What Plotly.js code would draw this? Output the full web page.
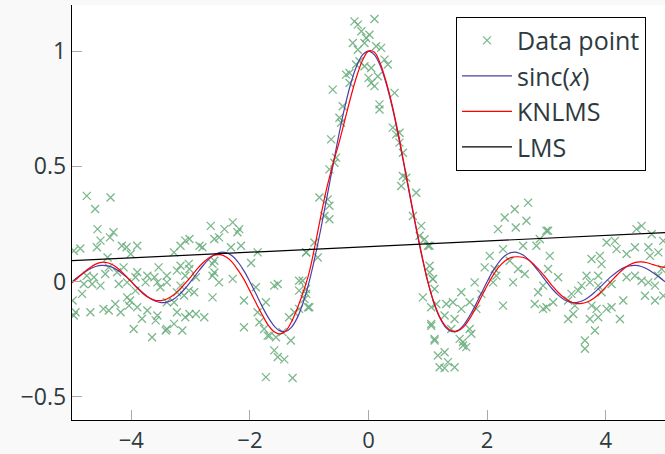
<!DOCTYPE html>
<html>
<head>
<meta charset="utf-8">
<script src="https://cdn.plot.ly/plotly-3.0.1.min.js"></script>
<style>
html,body{margin:0;padding:0;background:#f9f9f9;}
#chart{width:665px;height:454px;}
</style>
</head>
<body>
<div id="chart"></div>
<script>
// Noisy samples
const dataX = [
-4.75,-4.35,-4.61,-4.57,-4.30,-4.36,-4.52,-4.58,-4.97,-4.86,-4.16,-4.08,-3.90,-4.01,-4.40,-3.28,-3.09,-3.17,-3.54,-3.61,
-3.40,-3.51,-3.90,-3.93,-4.07,-4.21,-4.24,-4.75,-4.66,-4.52,-4.63,-4.80,-4.83,-4.99,-4.94,-4.97,-4.69,-4.47,-4.38,-4.27,
-4.18,-4.04,-4.02,-3.90,-4.07,-3.93,-3.73,-3.82,-3.96,-3.65,-3.56,-3.59,-3.40,-3.42,-3.28,-3.14,-3.09,-3.23,-3.40,-3.28,
-3.03,-3.11,-3.23,-3.17,-3.09,-3.23,-3.03,-3.17,-3.56,-3.73,-3.76,-3.40,-4.38,-4.44,-4.13,
-2.66,-2.43,-2.29,-2.18,-2.21,-2.52,-2.60,-3.02,-2.85,-2.80,-2.32,-2.15,-1.87,-1.98,-2.60,-2.63,-2.60,-2.63,-2.52,-2.29,
-3.02,-2.91,-2.94,-2.63,-3.02,-2.91,-2.77,-2.10,-1.90,-1.59,-1.53,-1.73,-1.87,-1.84,-1.76,-1.67,-1.56,-2.10,-1.31,-1.34,
-1.25,-1.17,-1.02,-1.05,-1.17,-1.17,-1.05,-1.59,-1.53,-1.42,-1.73,-1.28,-1.70,-1.45,
-0.237,-0.18,0.101,-0.12,0.016,-0.265,-0.068,0.129,-0.21,-0.068,0.045,-0.378,-0.32,0.045,0.157,0.27,0.326,-0.603,0.439,0.185,
0.185,-0.434,-0.49,-0.462,0.41,0.467,0.523,0.523,0.58,-0.63,-0.547,-0.575,-0.659,0.58,0.636,0.552,0.805,-0.828,-0.687,-0.659,
-0.743,-0.659,0.749,0.889,0.861,0.945,-0.913,-0.856,-1.053,1.002,-1.11,-1.053,-0.997,-1.08,1.03,1.086,0.917,1.058,1.058,1.114,
1.17,-0.04,-0.18,0.213,0.0,0.101,-0.32,-0.152,
2.466,2.691,2.297,2.663,2.184,2.483,3.029,2.888,2.832,2.607,2.269,2.044,1.959,2.128,2.156,2.100,2.381,2.522,2.635,2.438,
1.790,1.903,1.565,2.269,2.944,2.860,2.804,2.944,1.03,1.03,1.086,1.114,1.143,1.311,1.424,1.565,1.706,1.818,1.283,1.452,
1.396,1.706,1.734,1.593,1.593,1.649,1.114,1.283,1.340,1.199,1.283,1.452,1.058,1.537,
3.00,4.52,4.606,4.775,4.015,4.155,4.183,4.493,4.72,4.887,4.97,4.352,4.747,3.057,3.761,3.902,3.93,3.029,3.198,3.677,
3.874,3.733,3.874,3.592,4.099,4.352,4.493,4.606,4.719,4.831,4.944,4.887,4.662,4.831,4.972,3.423,3.367,3.114,3.001,3.48,
3.761,3.846,4.015,4.099,4.296,3.452,3.367,3.733,3.874,4.24,3.818,3.649,3.649,3.536,3.93
];
const dataY = [
0.372,0.365,0.315,0.228,0.214,0.192,0.178,0.149,0.134,0.144,0.156,0.149,0.156,0.120,0.105,0.127,0.178,0.156,0.062,0.019,
-0.003,-0.024,0.041,0.019,-0.003,-0.010,0.041,0.026,-0.010,-0.017,0.019,-0.010,-0.053,-0.082,-0.133,-0.147,-0.133,-0.118,-0.125,-0.097,
-0.133,-0.104,-0.082,-0.111,-0.068,-0.039,-0.125,-0.161,-0.205,-0.241,-0.147,-0.168,-0.205,-0.212,-0.183,-0.212,-0.154,-0.133,-0.089,-0.089,
-0.039,-0.060,-0.046,-0.017,0.026,0.048,0.077,0.069,-0.003,0.026,-0.003,0.026,0.062,0.033,0.062,
0.242,0.228,0.257,0.228,0.214,0.192,0.185,0.185,0.156,0.149,0.149,0.156,0.127,0.081,0.091,0.077,0.040,0.026,-0.003,0.012,
0.055,0.019,-0.046,-0.068,-0.140,-0.140,-0.154,-0.082,-0.024,-0.017,-0.010,-0.089,-0.133,-0.176,-0.205,-0.234,-0.241,-0.198,-0.255,-0.154,
-0.133,-0.118,-0.111,-0.053,-0.039,0.004,0.127,-0.298,-0.327,-0.337,-0.414,-0.418,-0.234,-0.219,
1.129,1.115,1.139,1.086,1.071,1.035,1.035,1.021,0.942,0.934,0.927,0.898,0.862,0.862,0.891,0.963,0.942,0.833,0.819,0.769,
0.747,0.761,0.711,0.689,0.668,0.639,0.646,0.603,0.559,0.617,0.538,0.516,0.487,0.458,0.451,0.415,0.386,0.365,0.357,0.329,
0.285,0.271,0.285,0.242,0.199,0.184,0.170,0.105,0.127,0.156,0.004,-0.032,-0.111,-0.075,0.069,0.011,-0.068,-0.111,-0.191,-0.248,
-0.320,1.057,1.006,1.014,0.884,0.848,0.905,0.956,
0.314,0.343,0.278,0.264,0.228,0.235,0.221,0.185,0.156,0.156,0.141,0.112,0.062,0.055,0.026,-0.003,0.091,0.055,0.033,-0.003,
-0.003,-0.053,-0.046,-0.104,-0.017,-0.046,-0.097,-0.118,0.156,0.040,0.012,-0.032,-0.097,-0.097,-0.089,-0.118,-0.089,-0.118,-0.147,-0.162,
-0.205,-0.205,-0.226,-0.262,-0.277,-0.284,-0.255,-0.306,-0.349,-0.371,-0.375,-0.371,-0.183,-0.248,
0.221,0.228,0.242,0.206,0.170,0.177,0.141,0.149,0.149,0.127,0.177,0.120,0.112,0.112,0.098,0.112,0.076,0.055,0.019,0.026,
0.026,-0.003,-0.017,-0.017,-0.010,0.019,0.026,0.004,-0.003,-0.017,0.055,0.026,-0.061,-0.082,-0.061,-0.053,-0.082,-0.089,-0.111,-0.104,
-0.104,-0.118,-0.118,-0.111,-0.082,-0.140,-0.162,-0.162,-0.154,-0.162,-0.212,-0.255,-0.291,-0.039,-0.046
];

// Curve sample positions
const curveX = [
-5.0,-4.9,-4.8,-4.7,-4.6,-4.5,-4.4,-4.3,-4.2,-4.1,-4.0,-3.9,-3.8,-3.7,-3.6,-3.5,-3.4,-3.3,-3.2,-3.1,
-3.0,-2.9,-2.8,-2.7,-2.6,-2.5,-2.4,-2.3,-2.2,-2.1,-2.0,-1.9,-1.8,-1.7,-1.6,-1.5,-1.4,-1.3,-1.2,-1.1,
-1.0,-0.9,-0.8,-0.7,-0.6,-0.5,-0.4,-0.3,-0.2,-0.1,0.0,0.1,0.2,0.3,0.4,0.5,0.6,0.7,0.8,0.9,
1.0,1.1,1.2,1.3,1.4,1.5,1.6,1.7,1.8,1.9,2.0,2.1,2.2,2.3,2.4,2.5,2.6,2.7,2.8,2.9,
3.0,3.1,3.2,3.3,3.4,3.5,3.6,3.7,3.8,3.9,4.0,4.1,4.2,4.3,4.4,4.5,4.6,4.7,4.8,4.9,5.0
];
// sinc(x) curve values
const sincY = [
0,0.02007,0.03898,0.05479,0.06581,0.07074,0.06880,0.05989,0.04455,0.02399,
0,-0.02522,-0.04924,-0.06960,-0.08409,-0.09095,-0.08904,-0.07804,-0.05847,-0.03173,
0,0.03392,0.06682,0.09538,0.11643,0.12732,0.12614,0.11196,0.08504,0.04684,
0,-0.05177,-0.10394,-0.15148,-0.18921,-0.21221,-0.21624,-0.19809,-0.15592,-0.08942,
0,0.10929,0.23387,0.36788,0.50455,0.63662,0.75683,0.85839,0.93549,0.98363,
1,
0.98363,0.93549,0.85839,0.75683,0.63662,0.50455,0.36788,0.23387,0.10929,0,
-0.08942,-0.15592,-0.19809,-0.21624,-0.21221,-0.18921,-0.15148,-0.10394,-0.05177,0,
0.04684,0.08504,0.11196,0.12614,0.12732,0.11643,0.09538,0.06682,0.03392,0,
-0.03173,-0.05847,-0.07804,-0.08904,-0.09095,-0.08409,-0.06960,-0.04924,-0.02522,0,
0.02399,0.04455,0.05989,0.06880,0.07074,0.06581,0.05479,0.03898,0.02007,0
];
// KNLMS estimate values
const knlmsY = [
-0.005,0.017,0.040,0.060,0.076,0.084,0.082,0.071,0.052,0.027,
0.000,-0.028,-0.052,-0.070,-0.081,-0.082,-0.075,-0.060,-0.038,-0.010,
0.020,0.052,0.080,0.102,0.115,0.117,0.107,0.085,0.050,0.010,
-0.040,-0.090,-0.140,-0.185,-0.215,-0.227,-0.215,-0.175,-0.115,-0.045,
0.040,0.160,0.290,0.410,0.510,0.600,0.700,0.800,0.890,0.960,
1.000,
0.995,0.945,0.865,0.765,0.645,0.510,0.375,0.240,0.115,0.000,
-0.088,-0.152,-0.193,-0.213,-0.215,-0.197,-0.163,-0.118,-0.068,-0.018,
0.027,0.064,0.090,0.104,0.108,0.106,0.094,0.072,0.045,0.014,
-0.018,-0.047,-0.070,-0.086,-0.094,-0.094,-0.087,-0.072,-0.050,-0.024,
0.004,0.031,0.055,0.073,0.084,0.086,0.082,0.074,0.066,0.062
];
// LMS estimate (straight line)
const lmsX = [-5, 5];
const lmsY = [0.091, 0.213];

const xTicks = [-4, -2, 0, 2, 4];
const yTicks = [-0.5, 0, 0.5, 1];

const FONT = '"Open Sans", "DejaVu Sans", sans-serif';
const TXT = '#2e3a40';

const traces = [
  {x: dataX, y: dataY, mode: 'markers', type: 'scatter', name: 'Data point',
   marker: {symbol: 'x-thin', size: 8, color: 'rgba(100,170,120,0.85)',
            line: {width: 1.3, color: 'rgba(100,170,120,0.85)'}}},
  {x: curveX, y: sincY, mode: 'lines', type: 'scatter', name: 'sinc(<i>x</i>)',
   line: {color: '#4a3fa6', width: 1.2, shape: 'spline'}},
  {x: curveX, y: knlmsY, mode: 'lines', type: 'scatter', name: 'KNLMS',
   line: {color: '#ff0000', width: 1.2, shape: 'spline'}},
  {x: lmsX, y: lmsY, mode: 'lines', type: 'scatter', name: 'LMS',
   line: {color: '#000000', width: 1.2}}
];

const layout = {
  width: 665, height: 454,
  margin: {l: 72, r: 0, t: 5, b: 34, pad: 0},
  paper_bgcolor: '#f9f9f9',
  plot_bgcolor: '#ffffff',
  font: {family: FONT, size: 23, color: TXT},
  showlegend: true,
  legend: {x: 0.6476, y: 0.972, xanchor: 'left', yanchor: 'top',
           bgcolor: '#ffffff', bordercolor: '#000000', borderwidth: 1,
           itemwidth: 50,
           font: {family: FONT, size: 25, color: TXT}, tracegroupgap: 0},
  xaxis: {range: [-5, 5], tickvals: xTicks, ticks: 'inside', ticklen: 10, tickwidth: 1,
          tickcolor: '#aaaaaa', showline: true, linecolor: '#000000', linewidth: 1.3,
          showgrid: false, zeroline: false, mirror: false,
          tickfont: {family: FONT, size: 22, color: TXT}},
  yaxis: {range: [-0.6, 1.2], tickvals: yTicks, ticks: 'inside', ticklen: 10, tickwidth: 1,
          tickcolor: '#aaaaaa', showline: true, linecolor: '#000000', linewidth: 1.3,
          showgrid: false, zeroline: false, mirror: false,
          tickfont: {family: FONT, size: 23, color: TXT}}
};

Plotly.newPlot('chart', traces, layout, {displayModeBar: false, staticPlot: true});
</script>
</body>
</html>
